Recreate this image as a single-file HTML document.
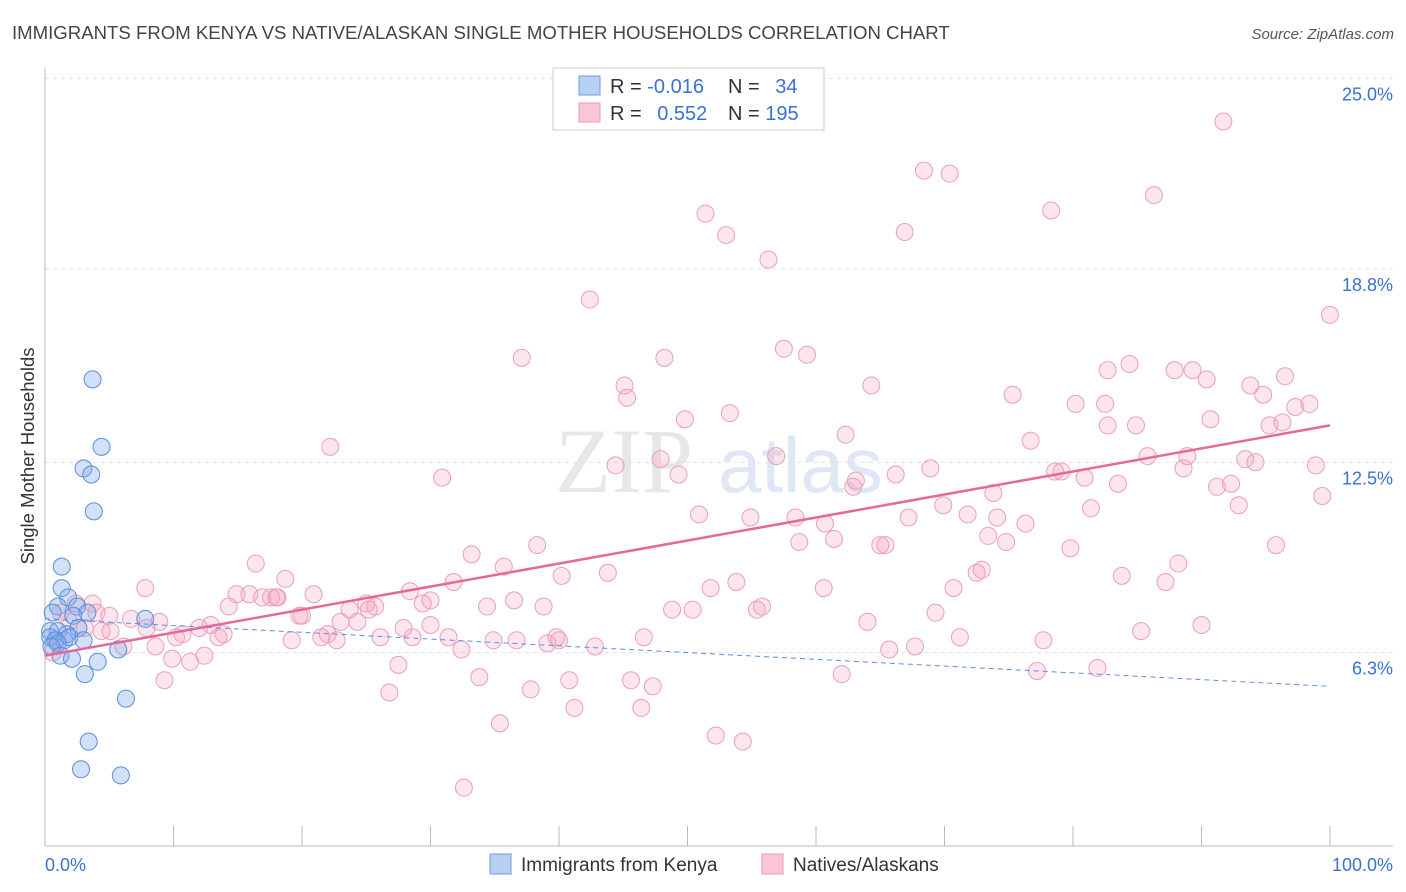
<!DOCTYPE html>
<html><head><meta charset="utf-8"><style>
body{margin:0;background:#fff;font-family:"Liberation Sans",sans-serif;}
svg{display:block}
</style></head><body>
<svg id="chart" width="1406" height="892">
<text x="12" y="39" font-size="18.6" fill="#444">IMMIGRANTS FROM KENYA VS NATIVE/ALASKAN SINGLE MOTHER HOUSEHOLDS CORRELATION CHART</text>
<text x="1394" y="39" font-size="15" fill="#555" font-style="italic" text-anchor="end">Source: ZipAtlas.com</text>
<text transform="translate(34,456) rotate(-90)" font-size="18.5" fill="#333" text-anchor="middle">Single Mother Households</text>
<g>
<text x="555" y="492" font-size="92" fill="#d8d8d8" font-family="Liberation Serif" opacity="0.6">ZIP</text>
<text x="718" y="492" font-size="78" fill="#bcd0ee" opacity="0.5">atlas</text>
</g>
<g id="grid"></g>
<g id="axes"></g>
<g id="marks"></g>
<g>
<rect x="553" y="68" width="271" height="62" fill="#fff" stroke="#ccc"/>
<rect x="579" y="76" width="21" height="19" fill="#b8d0f4" stroke="#6d9be0"/>
<rect x="579" y="103" width="21" height="19" fill="#f9c6d6" stroke="#e899b4"/>
<text x="610" y="93" font-size="20" fill="#333">R = <tspan fill="#3a72d0">-0.016</tspan></text>
<text x="728" y="93" font-size="20" fill="#333">N = <tspan fill="#3a72d0" dx="10">34</tspan></text>
<text x="610" y="120" font-size="20" fill="#333">R = <tspan fill="#3a72d0" dx="10">0.552</tspan></text>
<text x="728" y="120" font-size="20" fill="#333">N = <tspan fill="#3a72d0">195</tspan></text>
</g>
<g>
<rect x="490" y="854" width="21" height="20" fill="#b8d0f4" stroke="#6d9be0"/>
<text x="521" y="871" font-size="19" fill="#333">Immigrants from Kenya</text>
<rect x="762" y="854" width="21" height="20" fill="#f9c6d6" stroke="#e899b4"/>
<text x="793" y="871" font-size="19" fill="#333">Natives/Alaskans</text>
</g>
</svg>
<script>
const yTicks=[6.3,12.5,18.8,25.0];
const yTickLabels=["6.3%","12.5%","18.8%","25.0%"];
const xTickLabels=["0.0%","100.0%"];
const pinkX=[91.7,68.4,70.4,86.3,51.4,78.3,53.0,66.9,56.3,42.4,100,57.5,59.3,37.1,48.2,96.5,82.7,84.4,87.9,89.3,90.4,75.3,64.3,45.1,45.3,93.8,94.8,80.2,82.5,97.3,98.4,53.3,49.8,90.7,84.9,82.7,95.3,96.3,62.3,76.7,22.2,56.9,88.9,93.4,94.2,44.4,47.9,85.8,49.3,68.9,78.6,79.1,98.9,88.6,66.2,30.9,63.1,80.9,62.9,83.5,91.2,92.3,73.8,99.4,69.9,92.9,81.4,50.9,54.9,58.4,67.2,71.8,74.1,76.3,60.7,61.4,73.4,58.7,65.0,65.4,74.8,79.8,95.8,38.3,33.2,16.4,35.7,43.8,40.2,88.2,83.8,72.5,72.9,18.7,7.8,31.8,87.2,53.8,51.8,60.6,70.7,28.4,14.9,15.9,20.9,16.9,18.0,17.6,18.1,30.0,25.7,36.5,14.3,29.4,25.0,23.7,25.2,34.4,38.8,3.7,2.4,5.0,48.8,50.4,55.4,55.8,69.3,19.8,20.0,6.7,8.9,5.1,4.4,7.9,24.3,23.0,64.0,90.0,85.3,12.9,12.0,13.9,10.7,27.9,30.0,10.2,21.5,19.2,22.0,22.7,13.5,26.1,28.6,31.4,39.8,40.0,34.9,36.7,39.1,42.8,46.6,71.2,77.7,6.1,8.6,32.4,65.7,67.7,9.9,11.3,12.4,27.5,81.9,77.2,62.0,33.8,45.6,47.3,9.3,40.8,26.8,37.8,41.2,46.4,35.4,52.2,54.3,32.6,0.6,0.9,1.9,3.1,1.2,4.0];
const pinkY=[23.6,22.0,21.9,21.2,20.6,20.7,19.9,20.0,19.1,17.8,17.3,16.2,16.0,15.9,15.9,15.3,15.5,15.7,15.5,15.5,15.2,14.7,15.0,15.0,14.6,15.0,14.7,14.4,14.4,14.3,14.4,14.1,13.9,13.9,13.7,13.7,13.7,13.8,13.4,13.2,13.0,12.7,12.7,12.6,12.5,12.4,12.6,12.7,12.1,12.3,12.2,12.2,12.4,12.3,12.1,12.0,11.9,12.0,11.7,11.8,11.7,11.8,11.5,11.4,11.1,11.1,11.0,10.8,10.7,10.7,10.7,10.8,10.7,10.5,10.5,10.0,10.1,9.9,9.8,9.8,9.9,9.7,9.8,9.8,9.5,9.2,9.1,8.9,8.8,9.2,8.8,8.9,9.0,8.7,8.4,8.6,8.6,8.6,8.4,8.4,8.4,8.3,8.2,8.2,8.2,8.1,8.1,8.1,8.1,8.0,7.8,8.0,7.8,7.9,7.9,7.7,7.7,7.8,7.8,7.9,7.9,7.5,7.7,7.7,7.7,7.8,7.6,7.5,7.5,7.4,7.3,7.0,7.0,7.1,7.3,7.3,7.3,7.2,7.0,7.2,7.1,6.9,6.9,7.1,7.2,6.8,6.8,6.7,6.9,6.7,6.8,6.8,6.8,6.8,6.8,6.7,6.7,6.7,6.6,6.5,6.8,6.8,6.7,6.5,6.5,6.4,6.4,6.5,6.1,6.0,6.2,5.9,5.8,5.7,5.6,5.5,5.4,5.2,5.4,5.4,5.0,5.1,4.5,4.5,4.0,3.6,3.4,1.9,6.3,6.7,7.3,7.1,7.6,7.6];
const blueX=[3.7,4.4,3.0,3.6,3.8,1.3,1.3,1.8,2.5,1.0,0.6,7.8,3.3,2.2,2.6,0.4,1.0,1.7,0.4,0.8,1.5,1.9,3.0,1.0,0.5,5.7,1.2,2.1,4.1,3.1,6.3,3.4,2.8,5.9];
const blueY=[15.2,13.0,12.3,12.1,10.9,9.1,8.4,8.1,7.8,7.8,7.6,7.4,7.6,7.5,7.1,7.0,7.0,6.9,6.8,6.7,6.7,6.8,6.7,6.6,6.5,6.4,6.2,6.1,6.0,5.6,4.8,3.4,2.5,2.3];
const pinkTrend=[6.2,13.7];
const blueTrend=[7.4,5.2];

const NS="http://www.w3.org/2000/svg";
const X0=45,X1=1330,YB=846,PXPER=30.7;
function sx(v){return X0+(X1-X0)*v/100;}
function sy(v){return YB-v*PXPER;}
function mk(tag,attrs,parent){const e=document.createElementNS(NS,tag);for(const k in attrs)e.setAttribute(k,attrs[k]);parent.appendChild(e);return e;}
const grid=document.getElementById('grid'),axes=document.getElementById('axes'),marks=document.getElementById('marks');
yTicks.forEach((t,i)=>{
  const l=mk('line',{x1:X0,x2:1393,y1:sy(t),y2:sy(t),stroke:'#e2e2e2','stroke-dasharray':'4,4'},grid);
  
  
  const tx=mk('text',{x:1393,y:sy(t)+22,'font-size':18,fill:'#3a72d0','text-anchor':'end'},axes);
  tx.textContent=yTickLabels[i];
  
  
});
const ax=mk('line',{x1:X0,x2:1393,y1:YB,y2:YB,stroke:'#bbb'},axes);


const ay=mk('line',{x1:X0,x2:X0,y1:68,y2:YB,stroke:'#bbb'},axes);


for(let i=0;i<=10;i++){
  const t=mk('line',{x1:sx(i*10),x2:sx(i*10),y1:826,y2:YB,stroke:'#bbb'},axes);
  
  
}
[[0,'start',45],[100,'end',1393]].forEach((d,i)=>{
  const tx=mk('text',{x:d[2],y:871,'font-size':18,fill:'#3a72d0','text-anchor':d[1]},axes);
  tx.textContent=xTickLabels[i];
  
  
});
pinkX.forEach((x,i)=>{
  const c=mk('circle',{cx:sx(x),cy:sy(pinkY[i]),r:8.5,fill:'rgba(244,160,190,0.28)',stroke:'#eba0ba','stroke-width':1},marks);
  
  
});
blueX.forEach((x,i)=>{
  const c=mk('circle',{cx:sx(x),cy:sy(blueY[i]),r:8.5,fill:'rgba(130,170,235,0.35)',stroke:'#5b8fd9','stroke-width':1},marks);
  
  
});
const bt=mk('line',{x1:sx(0),x2:sx(100),y1:sy(blueTrend[0]),y2:sy(blueTrend[1]),stroke:'#5b8fd9','stroke-width':1,'stroke-dasharray':'5,4'},marks);


const pt=mk('line',{x1:sx(0),x2:sx(100),y1:sy(pinkTrend[0]),y2:sy(pinkTrend[1]),stroke:'#e4699a','stroke-width':2.5},marks);


</script>
</body></html>
